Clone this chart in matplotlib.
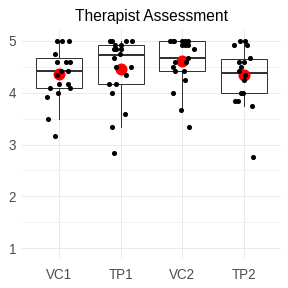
import matplotlib
matplotlib.use("Agg")
import matplotlib.pyplot as plt
from matplotlib.ticker import MultipleLocator

plt.rcParams['font.family'] = ['Liberation Sans', 'DejaVu Sans']

title = "Therapist Assessment"
categories = ["VC1", "TP1", "VC2", "TP2"]

# observed (jittered) scores per group
vc1_vals = [5.0, 5.0, 5.0, 4.75, 4.583, 4.583, 4.583, 4.417, 4.417, 4.333,
            4.167, 4.167, 4.083, 4.083, 4.0, 3.917, 3.5, 3.167]
vc1_jit = [-0.026, 0.055, 0.162, -0.065, -0.026, 0.113, 0.178, 0.032, 0.152, -0.026,
           0.0, 0.146, -0.146, 0.178, -0.016, -0.194, -0.178, -0.065]

tp1_vals = [5.0, 5.0, 5.0, 5.0, 4.917, 4.917, 4.833, 4.833, 4.833, 4.75,
            4.667, 4.5, 4.5, 4.333, 4.167, 4.167, 4.0, 3.583, 3.333, 2.833]
tp1_jit = [-0.168, -0.139, 0.092, 0.189, -0.097, 0.011, -0.113, -0.070, 0.011, -0.005,
           -0.113, -0.081, 0.168, 0.081, -0.194, -0.081, -0.146, 0.065, -0.146, -0.113]

vc2_vals = [5.0, 5.0, 5.0, 5.0, 5.0, 5.0, 4.917, 4.917, 4.917, 4.833,
            4.667, 4.583, 4.583, 4.5, 4.417, 4.417, 4.25, 4.0, 3.667, 3.333]
vc2_jit = [-0.194, -0.155, -0.139, -0.005, 0.049, 0.087, -0.005, 0.049, 0.087, 0.194,
           0.092, 0.065, -0.123, -0.155, -0.113, 0.032, 0.049, -0.155, -0.016, 0.103]

tp2_vals = [5.0, 5.0, 4.917, 4.917, 4.667, 4.583, 4.583, 4.5, 4.417, 4.333,
            4.25, 4.0, 4.0, 3.833, 3.833, 3.75, 2.75]
tp2_jit = [-0.065, 0.016, -0.168, 0.042, 0.097, -0.076, -0.006, -0.049, -0.087, 0.021,
           -0.006, -0.049, -0.023, -0.141, -0.092, 0.123, 0.139]

# box statistics
box_q1 = [4.083, 4.167, 4.417, 4.0]
box_med = [4.417, 4.72, 4.667, 4.375]
box_q3 = [4.667, 4.917, 5.0, 4.64]
box_wlo = [3.5, 3.333, 3.667, 3.75]
box_whi = [5.0, 5.0, 5.0, 5.0]
group_means = [4.35, 4.46, 4.6, 4.33]

values = [vc1_vals, tp1_vals, vc2_vals, tp2_vals]
jitters = [vc1_jit, tp1_jit, vc2_jit, tp2_jit]

fig = plt.figure(figsize=(4, 4), dpi=72)
ax = fig.add_axes([0.0764, 0.1017, 0.8993, 0.7931])

positions = list(range(1, len(categories) + 1))
stats = []
for i, c in enumerate(categories):
    stats.append(dict(label=c, q1=box_q1[i], med=box_med[i], q3=box_q3[i],
                      whislo=box_wlo[i], whishi=box_whi[i], fliers=[]))

lc = '#333333'
ax.bxp(stats, positions=positions, widths=0.75, showfliers=False, showcaps=False,
       patch_artist=True,
       boxprops=dict(facecolor='none', edgecolor=lc, linewidth=1.0),
       whiskerprops=dict(color=lc, linewidth=1.0),
       medianprops=dict(color=lc, linewidth=2.0, solid_capstyle='butt'),
       zorder=2)

ax.scatter(positions, group_means, s=144, color='#FF0000', zorder=3, linewidths=0)

for i, (vals, jit) in enumerate(zip(values, jitters)):
    xs = [positions[i] + j for j in jit]
    ax.scatter(xs, vals, s=26, color='black', zorder=4, linewidths=0)

ax.set_xlim(0.4, 4.6)
ax.set_ylim(0.8, 5.2)
ax.set_xticks(positions)
ax.set_xticklabels(categories)
ax.yaxis.set_major_locator(MultipleLocator(1))
ax.yaxis.set_minor_locator(MultipleLocator(0.5))

ax.grid(True, which='major', color='#EBEBEB', linewidth=1.0, zorder=0)
ax.grid(True, which='minor', axis='y', color='#EBEBEB', linewidth=0.6, zorder=0)
ax.set_axisbelow(True)
for s in ax.spines.values():
    s.set_visible(False)
ax.tick_params(axis='both', which='both', length=0, labelsize=13.5, colors='#4D4D4D')
ax.tick_params(axis='x', pad=9)
ax.tick_params(axis='y', pad=6)

ax.set_title(title, fontsize=15.5, color='black', pad=9)

fig.savefig('out.png', dpi=72)
